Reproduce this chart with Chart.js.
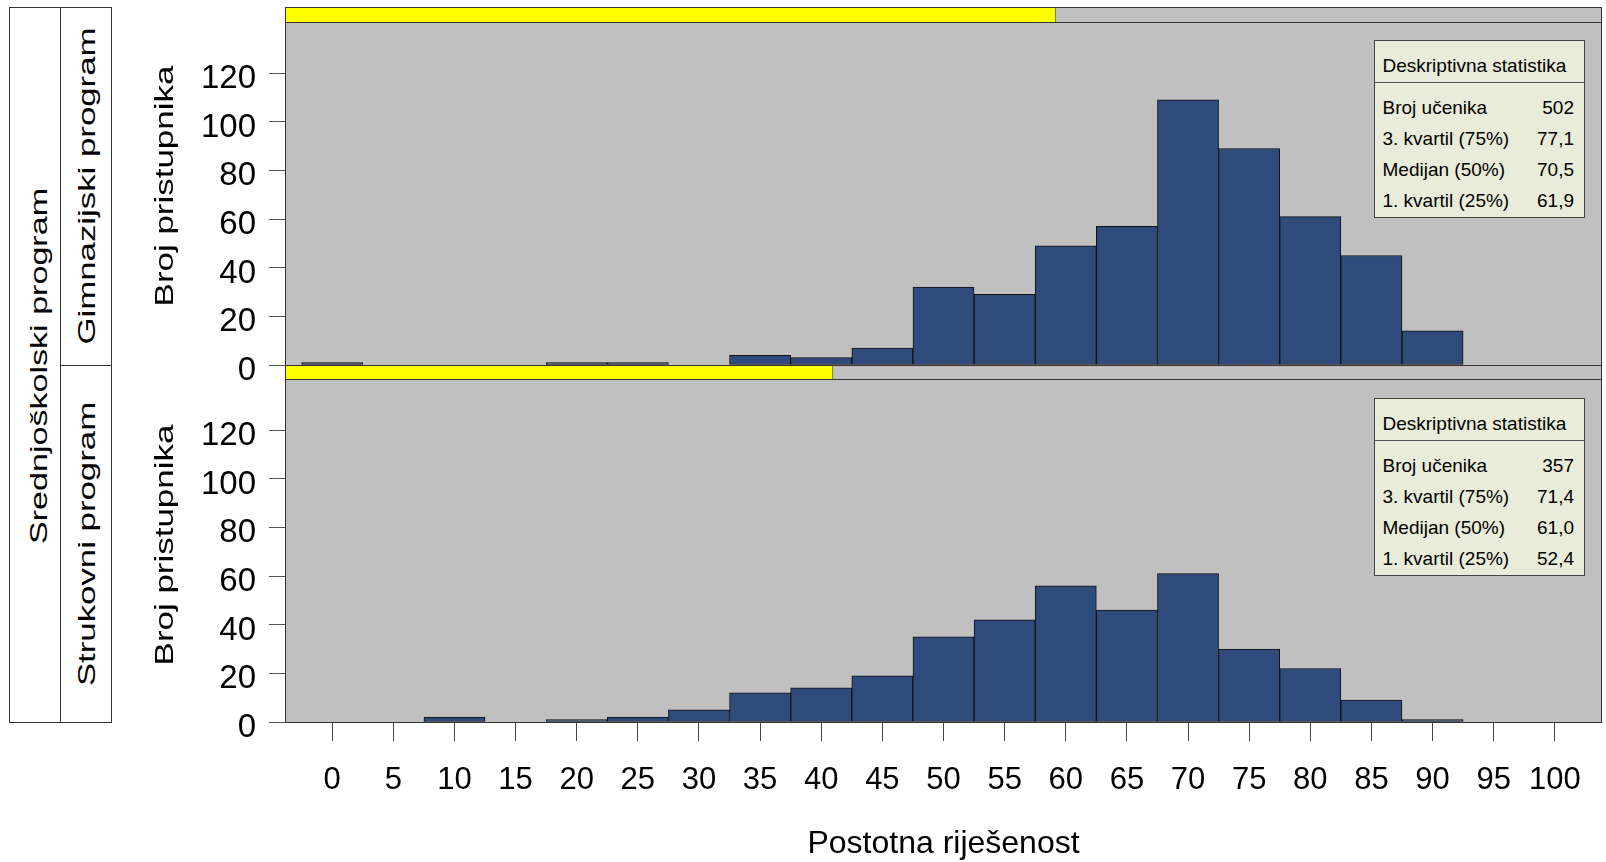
<!DOCTYPE html>
<html>
<head>
<meta charset="utf-8">
<script src="https://cdn.jsdelivr.net/npm/chart.js@4.4.1/dist/chart.umd.min.js"></script>
<style>
html,body{margin:0;padding:0;background:#fff;width:1606px;height:862px;overflow:hidden;}
#wrap{position:relative;width:1606px;height:862px;font-family:"Liberation Sans",Arial,sans-serif;color:#000;}
canvas{position:absolute;left:0;top:0;}
.box{position:absolute;box-sizing:border-box;border:1px solid #333;background:#fff;}
.rot{position:absolute;white-space:nowrap;line-height:1;}
.stat{position:absolute;box-sizing:border-box;border:1px solid #444;background:#e9ecd8;font-size:19px;line-height:31px;}
.stat .hd{position:absolute;left:7.5px;top:9px;}
.stat .sep{position:absolute;left:0;right:0;top:41px;border-top:1px solid #555;}
.stat .row{position:absolute;left:7.5px;right:10px;display:flex;justify-content:space-between;}
</style>
</head>
<body>
<div id="wrap">
  <canvas id="cBottom" width="1606" height="862"></canvas>
  <canvas id="cTop" width="1606" height="862"></canvas>
</div>
<script>
// ---- data ----
const bins = [0,5,10,15,20,25,30,35,40,45,50,55,60,65,70,75,80,85,90,95,100];
const xTickValues = [0,5,10,15,20,25,30,35,40,45,50,55,60,65,70,75,80,85,90,95,100];
const yTickValues = [0,20,40,60,80,100,120];
const gimnazijski = [1,0,0,0,1,1,0,4,3,7,32,29,49,57,109,89,61,45,14,0,0];
const strukovni   = [0,0,2,0,1,2,5,12,14,19,35,42,56,46,61,30,22,9,1,0,0];
const statTitle = 'Deskriptivna statistika';
const statLabels = ['Broj učenika','3. kvartil (75%)','Medijan (50%)','1. kvartil (25%)'];
const gimnazijskiStats = ['502','77,1','70,5','61,9'];
const strukovniStats   = ['357','71,4','61,0','52,4'];
const groupCounts = [502, 357];
const groupName = 'Srednjoškolski program';
const programNames = ['Gimnazijski program','Strukovni program'];
const yTitle = 'Broj pristupnika';
const xTitle = 'Postotna riješenost';

const FONT = "'Liberation Sans', Arial, sans-serif";
Chart.defaults.font.family = FONT;
Chart.defaults.color = '#000';

const panelPlugin = {
  id: 'panel',
  beforeDraw(chart, args, o) {
    const a = chart.chartArea, ctx = chart.ctx;
    ctx.save();
    ctx.fillStyle = '#c0c0c0';
    ctx.fillRect(a.left, a.top, a.right - a.left, a.bottom - a.top);
    ctx.restore();
  },
  afterDraw(chart, args, o) {
    const a = chart.chartArea, ctx = chart.ctx;
    const w = a.right - a.left;
    ctx.save();
    // strip
    ctx.fillStyle = '#c0c0c0';
    ctx.fillRect(a.left, o.stripTop, w, a.top - o.stripTop);
    ctx.fillStyle = '#ffff00';
    ctx.fillRect(a.left, o.stripTop, w * o.share, a.top - o.stripTop);
    ctx.strokeStyle = '#333';
    ctx.lineWidth = 1;
    ctx.strokeRect(a.left + 0.5, o.stripTop + 0.5, w - 1, a.top - o.stripTop);
    ctx.strokeStyle = '#8a8a20';
    ctx.beginPath();
    ctx.moveTo(Math.round(a.left + w * o.share) + 0.5, o.stripTop + 1);
    ctx.lineTo(Math.round(a.left + w * o.share) + 0.5, a.top);
    ctx.stroke();
    // panel box
    ctx.strokeStyle = '#333';
    ctx.strokeRect(a.left + 0.5, a.top + 0.5, w - 1, a.bottom - a.top);
    ctx.restore();
  }
};

function makeChart(id, values, share, cfg) {
  const ctx = document.getElementById(id);
  return new Chart(ctx, {
    type: 'bar',
    data: {
      datasets: [{
        data: bins.map((b, i) => ({x: b, y: values[i] > 0 ? values[i] : null})),
        backgroundColor: '#2f4b7c',
        borderColor: '#111',
        borderWidth: 1,
        borderSkipped: false,
        barPercentage: 1,
        categoryPercentage: 1
      }]
    },
    options: {
      responsive: false,
      animation: false,
      devicePixelRatio: 1,
      events: [],
      layout: {padding: {left: 0, right: 4, top: cfg.top, bottom: cfg.bottom}},
      plugins: {
        legend: {display: false},
        tooltip: {enabled: false},
        panel: {share: share, stripTop: cfg.stripTop}
      },
      scales: {
        x: {
          type: 'linear',
          min: -3.86, max: 103.86,
          offset: false,
          display: cfg.showX,
          position: 'bottom',
          afterBuildTicks: s => { s.ticks = xTickValues.map(v => ({value: v})); },
          afterFit: s => { s.height = cfg.showX ? 140 : 0; s.paddingLeft = 0; s.paddingRight = 0; },
          grid: {drawOnChartArea: false, offset: false, drawTicks: true, tickLength: 19, tickColor: '#444'},
          border: {display: false},
          ticks: {font: {size: 31}, color: '#000', padding: 21, autoSkip: false, maxRotation: 0, minRotation: 0},
          title: {display: true, text: xTitle, font: {size: 32, lineHeight: 1.125}, color: '#000', padding: {top: 0, bottom: 0}}
        },
        y: {
          min: 0, max: 141,
          position: 'left',
          afterBuildTicks: s => { s.ticks = yTickValues.map(v => ({value: v})); },
          afterFit: s => { s.width = 285; s.paddingTop = 0; s.paddingBottom = 0; },
          grid: {drawOnChartArea: false, drawTicks: true, tickLength: 16, tickColor: '#555'},
          border: {display: false},
          ticks: {font: {size: 33}, color: '#000', padding: 13, labelOffset: 6, autoSkip: false},
          title: {display: false, text: yTitle}
        }
      }
    },
    plugins: [panelPlugin]
  });
}

const total = groupCounts[0] + groupCounts[1];
makeChart('cTop', gimnazijski, groupCounts[0] / total, {top: 22, bottom: 862 - 365, stripTop: 7, showX: false});
makeChart('cBottom', strukovni, groupCounts[1] / total, {top: 379, bottom: 0, stripTop: 365, showX: true});

// ---- HTML texts: strips, axis titles, stat boxes ----
const wrap = document.getElementById('wrap');
function addBox(l, t, w, h) {
  const d = document.createElement('div');
  d.className = 'box';
  Object.assign(d.style, {left: l + 'px', top: t + 'px', width: w + 'px', height: h + 'px'});
  wrap.appendChild(d);
}
function addRot(text, cx, cy, size, stretch) {
  const d = document.createElement('div');
  d.className = 'rot';
  d.textContent = text;
  Object.assign(d.style, {left: cx + 'px', top: cy + 'px', fontSize: size + 'px',
    transform: 'translate(-50%,-50%) rotate(-90deg) scaleX(' + stretch + ')'});
  wrap.appendChild(d);
}
addBox(9, 7, 52, 716);
addBox(60, 7, 52, 359);
addBox(60, 365, 52, 358);
addRot(groupName, 39, 366, 24, 1.42);
addRot(programNames[0], 86.5, 186, 24.5, 1.42);
addRot(programNames[1], 86.5, 544, 24.5, 1.42);
addRot(yTitle, 165, 186, 25.5, 1.37);
addRot(yTitle, 165, 544.5, 25.5, 1.37);

function addStat(top, vals) {
  const d = document.createElement('div');
  d.className = 'stat';
  Object.assign(d.style, {left: '1374px', top: top + 'px', width: '211px', height: '178px'});
  const hd = document.createElement('div');
  hd.className = 'hd'; hd.textContent = statTitle; d.appendChild(hd);
  const sep = document.createElement('div'); sep.className = 'sep'; d.appendChild(sep);
  statLabels.forEach((lab, i) => {
    const r = document.createElement('div');
    r.className = 'row';
    r.style.top = (51 + 31 * i) + 'px';
    const a = document.createElement('span'); a.textContent = lab;
    const b = document.createElement('span'); b.textContent = vals[i];
    r.appendChild(a); r.appendChild(b);
    d.appendChild(r);
  });
  wrap.appendChild(d);
}
addStat(40, gimnazijskiStats);
addStat(398, strukovniStats);
</script>
</body>
</html>
